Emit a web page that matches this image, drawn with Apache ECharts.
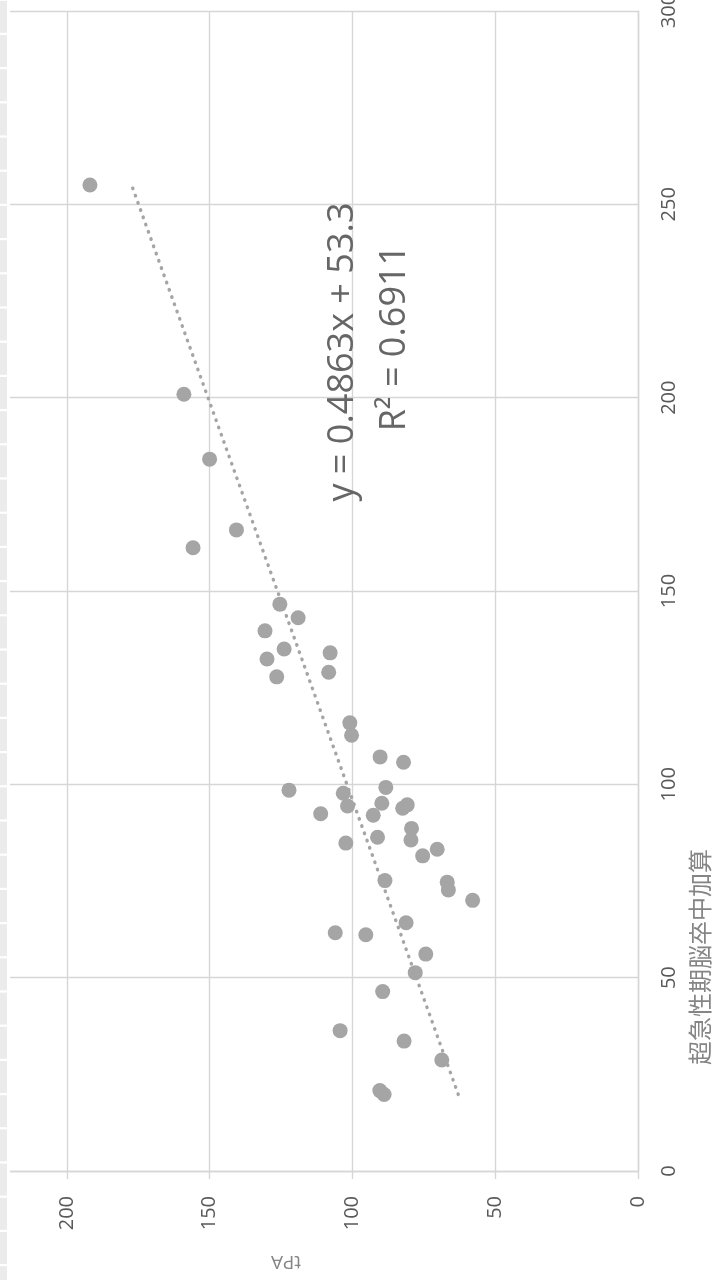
<!DOCTYPE html>
<html>
<head>
<meta charset="utf-8">
<script src="https://cdn.jsdelivr.net/npm/echarts@6/dist/echarts.min.js"></script>
<style>
  html, body { margin: 0; padding: 0; background: #ffffff; }
  #chart { width: 717px; height: 1280px; }
</style>
</head>
<body>
<div id="chart"></div>
<script>
// 超急性期脳卒中加算 (x) vs tPA (y), one entry per hospital
const hyperacuteStroke = [
  255.0, 200.9, 184.1, 165.8, 161.2, 146.6, 143.1, 139.7, 135.0, 134.0,
  132.4, 129.0, 127.8, 115.9, 112.7, 107.1, 105.7, 98.5, 99.2, 97.7,
  93.8, 94.7, 94.4, 95.1, 92.4, 92.0, 88.6, 86.3, 85.6, 84.8,
  83.2, 81.5, 75.1, 74.7, 72.7, 70.0, 64.2, 61.6, 61.1, 56.1,
  51.3, 46.4, 36.3, 33.6, 28.7, 20.8, 19.8
];
const tpaCount = [
  191.9, 159.0, 150.0, 140.6, 155.8, 125.4, 119.0, 130.6, 123.9, 107.8,
  129.9, 108.3, 126.5, 100.9, 100.3, 90.3, 82.1, 122.2, 88.3, 103.2,
  82.4, 80.8, 101.7, 89.7, 111.1, 92.7, 79.3, 91.2, 79.5, 102.3,
  70.3, 75.4, 88.6, 66.8, 66.4, 57.9, 81.2, 106.0, 95.3, 74.3,
  78.0, 89.4, 104.3, 81.9, 68.7, 90.4, 88.9
];

// Linear trendline y = slope * x + intercept
const trendSlope = 0.4863;
const trendIntercept = 53.3;
const trendR2 = '0.6911';

// Axis ranges and tick steps
const tpaRange = [0, 250];
const tpaStep = 50;
const hyperRange = [0, 300];
const hyperStep = 50;

const xTitle = '超急性期脳卒中加算';
const yTitle = 'tPA';

const GRID_COLOR = '#d6d6d6';
const MARK_COLOR = '#a5a5a5';
const LABEL_COLOR = '#595959';
const TITLE_COLOR = '#858585';
const FONT = '"Open Sans", "Noto Sans", sans-serif';

const points = hyperacuteStroke.map((h, i) => [tpaCount[i], h]);
const hMin = Math.min(...hyperacuteStroke);
const hMax = Math.max(...hyperacuteStroke);
const trendData = [hMin, hMax].map(h => [trendSlope * h + trendIntercept, h]);

const eqText = 'y = ' + trendSlope + 'x + ' + trendIntercept;
const r2Text = 'R² = ' + trendR2;

// Spreadsheet row-header strip along the left edge
const stripGraphics = [{
  type: 'rect', shape: { x: 0, y: 0, width: 10, height: 1280 },
  style: { fill: '#ffffff' }, z: 50, silent: true
}];
for (let y = 0.8 - 34.2; y < 1280; y += 34.2) {
  stripGraphics.push({
    type: 'rect', shape: { x: 0, y: y, width: 7, height: 32 },
    style: { fill: '#ebebeb' }, z: 51, silent: true
  });
}

const chart = echarts.init(document.getElementById('chart'), null, { renderer: 'canvas' });
chart.setOption({
  animation: false,
  backgroundColor: '#ffffff',
  grid: {
    left: -76, right: 79, top: 11, bottom: 109,
    containLabel: false, outerBoundsMode: 'none'
  },
  xAxis: {
    type: 'value',
    inverse: true,
    position: 'bottom',
    min: tpaRange[0], max: tpaRange[1], interval: tpaStep,
    axisLine: { show: true, onZero: false, lineStyle: { color: GRID_COLOR, width: 1.4 } },
    axisTick: { show: true, length: 8, lineStyle: { color: GRID_COLOR, width: 1.4 } },
    splitLine: { show: true, lineStyle: { color: GRID_COLOR, width: 1.4 } },
    axisLabel: {
      rotate: 90, margin: 25, fontSize: 20, color: LABEL_COLOR, fontFamily: FONT
    }
  },
  yAxis: {
    type: 'value',
    position: 'right',
    min: hyperRange[0], max: hyperRange[1], interval: hyperStep,
    axisLine: { show: true, onZero: false, lineStyle: { color: GRID_COLOR, width: 1.4 } },
    axisTick: { show: false },
    splitLine: { show: true, lineStyle: { color: GRID_COLOR, width: 1.4 } },
    axisLabel: {
      rotate: 90, margin: 21, fontSize: 20, color: LABEL_COLOR, fontFamily: FONT
    }
  },
  series: [
    {
      type: 'scatter',
      data: points,
      symbol: 'circle',
      symbolSize: 15,
      itemStyle: { color: MARK_COLOR, opacity: 1 },
      z: 2
    },
    {
      type: 'line',
      data: trendData,
      symbol: 'none',
      lineStyle: { color: MARK_COLOR, width: 3.4, type: [0.5, 7.2], cap: 'round' },
      z: 3,
      silent: true
    }
  ],
  graphic: stripGraphics.concat([
    {
      type: 'text', x: 343, y: 352, rotation: Math.PI / 2, z: 10,
      style: {
        text: eqText, fontSize: 36, fontFamily: FONT, fill: '#666666',
        textAlign: 'center', textVerticalAlign: 'middle'
      }
    },
    {
      type: 'text', x: 395, y: 338, rotation: Math.PI / 2, z: 10,
      style: {
        text: r2Text, fontSize: 36, fontFamily: FONT, fill: '#666666',
        textAlign: 'center', textVerticalAlign: 'middle'
      }
    },
    {
      type: 'text', x: 700, y: 957, rotation: Math.PI / 2, z: 10,
      style: {
        text: xTitle, fontSize: 24, fontFamily: '"Noto Sans CJK JP", sans-serif',
        fill: TITLE_COLOR, textAlign: 'center', textVerticalAlign: 'middle'
      }
    },
    {
      type: 'text', x: 286, y: 1261, rotation: Math.PI, z: 10,
      style: {
        text: yTitle, fontSize: 19, fontFamily: FONT,
        fill: TITLE_COLOR, textAlign: 'center', textVerticalAlign: 'middle'
      }
    }
  ])
});
</script>
</body>
</html>
